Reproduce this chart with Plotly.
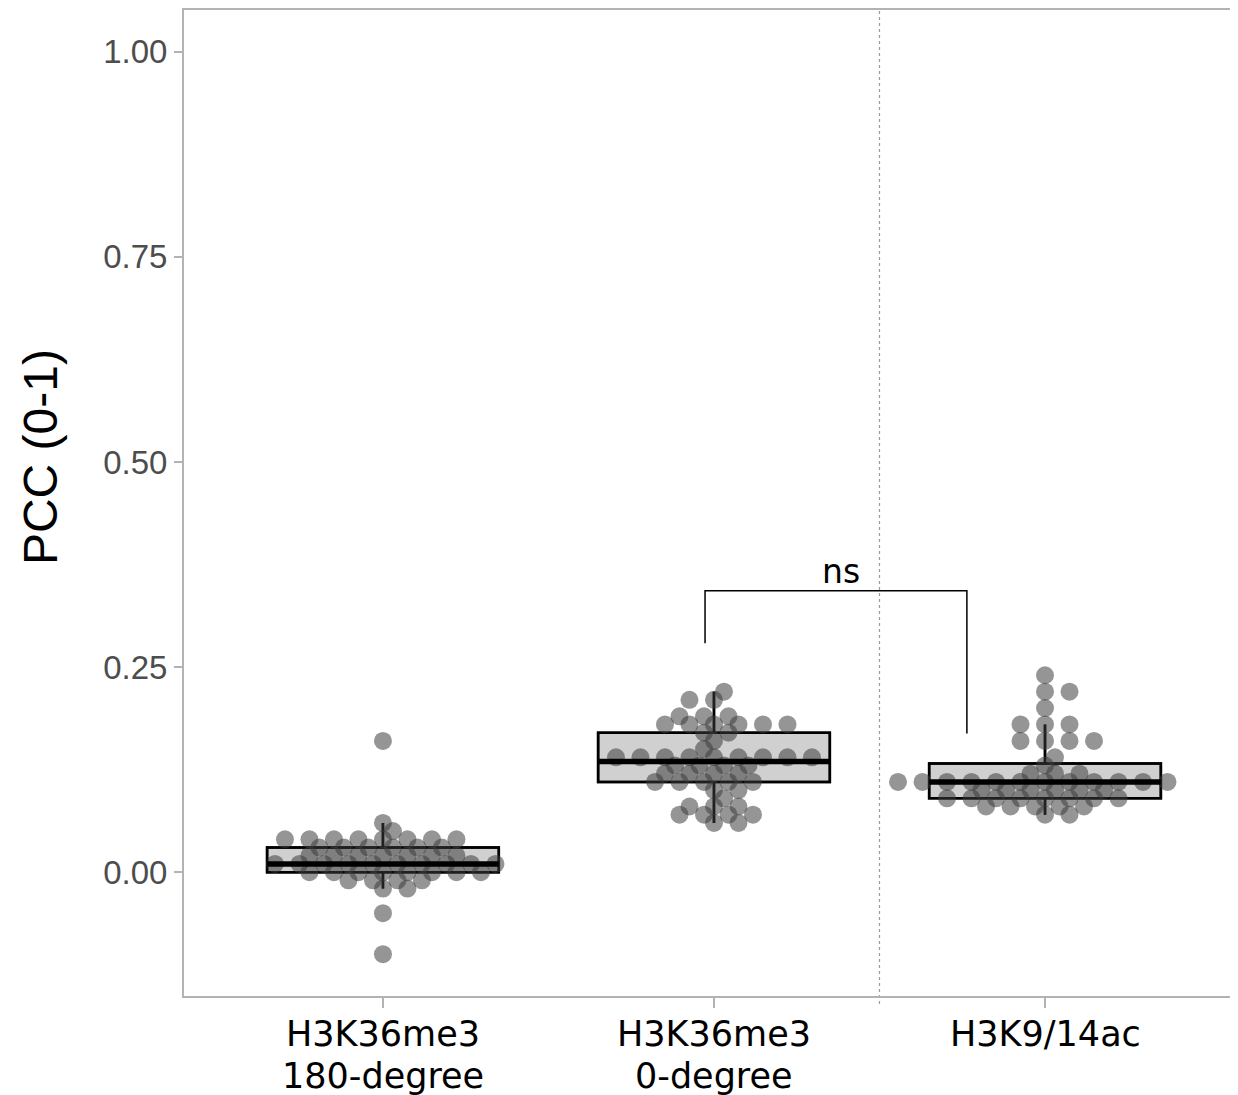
import numpy as np
import plotly.graph_objects as go

# ---------------- data ----------------
categories = ["H3K36me3<br>180-degree", "H3K36me3<br>0-degree", "H3K9/14ac"]

pcc_180 = ([0.16, 0.06, 0.05] + [0.04] * 8 + [0.03] * 6 + [0.02] * 7 + [0.01] * 10
           + [0.00] * 8 + [-0.01] * 4 + [-0.02] * 2 + [-0.05, -0.10])
pcc_0 = ([0.22, 0.21, 0.21, 0.19, 0.19, 0.19] + [0.18] * 6 + [0.17] * 2 + [0.16, 0.15]
         + [0.14] * 9 + [0.13] * 4 + [0.12] * 4 + [0.11] * 5 + [0.10] * 2 + [0.09]
         + [0.08] * 3 + [0.07] * 4 + [0.06] * 2)
pcc_ac = ([0.24, 0.22, 0.22, 0.20] + [0.18] * 3 + [0.16] * 4 + [0.14, 0.13] + [0.12] * 3
          + [0.11] * 12 + [0.10] * 6 + [0.09] * 8 + [0.08] * 5 + [0.07] * 2)
groups = [pcc_180, pcc_0, pcc_ac]

y_ticks = [0.0, 0.25, 0.5, 0.75, 1.0]
y_ticktext = ["0.00", "0.25", "0.50", "0.75", "1.00"]
sig_label = "ns"
y_title = "PCC (0-1)"

# ---------------- layout constants ----------------
# the page body has an 8px margin, so the figure is 8px smaller than the window
W, H = 1230, 1087
ML, MR, MT, MB = 176, 0, 0, 99
X_RANGE = [-0.601, 2.583]
Y_RANGE = [-0.151, 1.051]
px_per_x = (W - ML - MR) / (X_RANGE[1] - X_RANGE[0])
px_per_y = (H - MT - MB) / (Y_RANGE[1] - Y_RANGE[0])

DOT_SPACING_PX = 24.5   # horizontal swarm spacing
DOT_VSEP_PX = 9.0       # vertical collision band


def swarm_offsets(vals):
    """simple beeswarm: place points in ascending order nearest to centre without collision"""
    sx = DOT_SPACING_PX / px_per_x
    sy = DOT_VSEP_PX / px_per_y
    vals = np.asarray(vals, float)
    order = np.argsort(vals, kind="stable")
    placed = []
    offs = np.zeros(len(vals))
    for k, i in enumerate(order):
        y = vals[i]
        cands = [0.0]
        for (xj, yj) in placed:
            dy = (y - yj) / sy
            if abs(dy) < 1:
                dx = np.sqrt(1 - dy * dy) * sx
                cands += [xj + dx, xj - dx]
        sign_pref = 1 if k % 2 else -1
        cands.sort(key=lambda c: (round(abs(c), 9), -sign_pref * c))
        chosen = 0.0
        for c in cands:
            ok = True
            for (xj, yj) in placed:
                if ((c - xj) / sx) ** 2 + ((y - yj) / sy) ** 2 < 1 - 1e-6:
                    ok = False
                    break
            if ok:
                chosen = c
                break
        offs[i] = chosen
        placed.append((chosen, y))
    return offs


fig = go.Figure()
BOX_W = 0.7
HIDDEN = dict(size=0.1, opacity=0)


def box(i, vals, fill):
    return go.Box(x=[i] * len(vals), y=vals, boxpoints="outliers", marker=HIDDEN, width=BOX_W,
                  fillcolor=fill, line=dict(color="black", width=2.5),
                  whiskerwidth=0, quartilemethod="linear", showlegend=False, hoverinfo="skip")


# box fill (under points)
for i, vals in enumerate(groups):
    fig.add_trace(box(i, vals, "#d0d0d0"))

# points
for i, vals in enumerate(groups):
    offs = swarm_offsets(vals)
    fig.add_trace(go.Scatter(x=i + offs, y=vals, mode="markers",
                             marker=dict(size=18, color="rgba(60,60,60,0.54)", line=dict(width=0)),
                             showlegend=False, hoverinfo="skip"))

# box outlines + thick median on top
for i, vals in enumerate(groups):
    fig.add_trace(box(i, vals, "rgba(0,0,0,0)"))
    med = float(np.median(vals))
    fig.add_trace(go.Scatter(x=[i - BOX_W / 2, i + BOX_W / 2], y=[med, med], mode="lines",
                             line=dict(color="black", width=5.5), showlegend=False,
                             hoverinfo="skip"))

# significance bracket
bx0, bx1 = 0.973, 1.764
fig.add_trace(go.Scatter(x=[bx0, bx0, bx1, bx1], y=[0.279, 0.343, 0.343, 0.169], mode="lines",
                         line=dict(color="black", width=1.5), showlegend=False, hoverinfo="skip"))
fig.add_annotation(x=(bx0 + bx1) / 2 + 0.015, y=0.343, text=sig_label, showarrow=False,
                   yanchor="bottom", yshift=-2,
                   font=dict(family="DejaVu Sans", size=33, color="black"))

# dotted separator
fig.add_shape(type="line", xref="x", yref="paper", x0=1.5, x1=1.5, y0=-0.008, y1=1,
              line=dict(color="#9a9a9a", width=1.2, dash="dot"), layer="below")

# category labels (two lines each, tighter spacing than plotly's default)
for i, lab in enumerate(categories):
    for j, line in enumerate(lab.split("<br>")):
        fig.add_annotation(x=i, xref="x", y=0, yref="paper", text=line, showarrow=False,
                           xanchor="center", yanchor="middle", yshift=-38 - 42 * j,
                           font=dict(family="DejaVu Sans", size=35, color="black"))

AX = "#b3b3b3"
fig.update_layout(
    width=W, height=H,
    margin=dict(l=ML, r=MR, t=MT, b=MB, pad=0),
    paper_bgcolor="white", plot_bgcolor="white",
    xaxis=dict(range=X_RANGE, tickmode="array", tickvals=[0, 1, 2], showticklabels=False,
               showgrid=False, zeroline=False, showline=True, linecolor=AX, linewidth=2,
               mirror=True, ticks="outside", ticklen=10, tickwidth=2, tickcolor=AX),
    yaxis=dict(range=Y_RANGE, tickmode="array", tickvals=y_ticks, ticktext=y_ticktext,
               showgrid=False, zeroline=False, showline=True, linecolor=AX, linewidth=2,
               ticks="outside", ticklen=8, tickwidth=2, tickcolor=AX,
               tickfont=dict(family="Liberation Sans, Arial", size=33, color="#4d4d4d")),
)
fig.add_annotation(xref="paper", yref="paper", x=(32 - ML) / (W - ML - MR),
                   y=(H - MB - 448) / (H - MT - MB), text=y_title, textangle=-90,
                   showarrow=False, xanchor="center", yanchor="middle",
                   font=dict(family="Liberation Sans, Arial", size=48, color="black"))

fig.write_html("out.html")
